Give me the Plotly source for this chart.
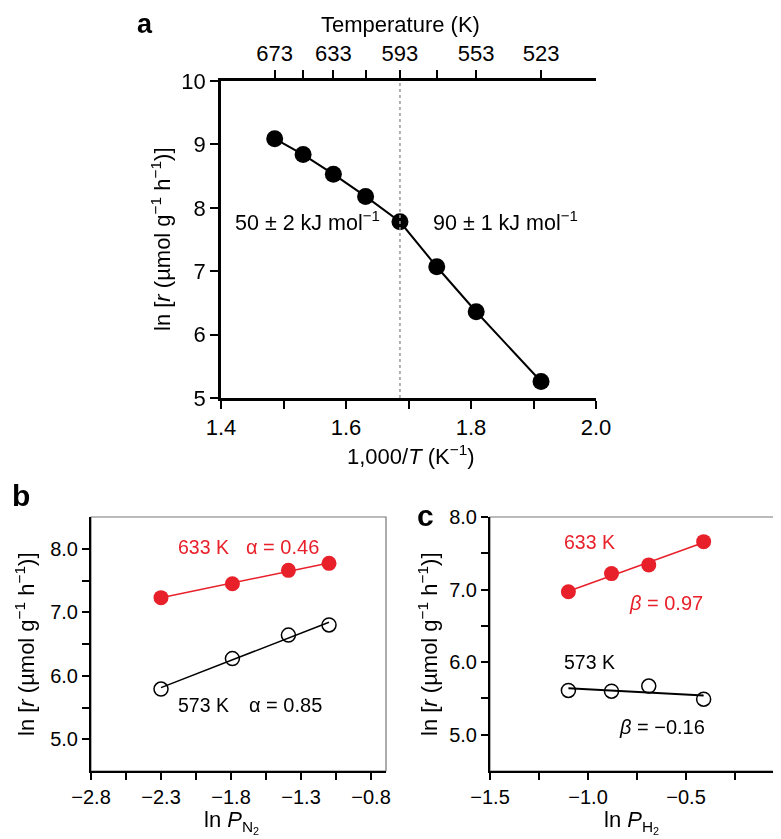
import numpy as np
import plotly.graph_objects as go

W, H = 781, 839
FONT = "Liberation Sans, Arial, sans-serif"
RED = "#e8202a"

# panel a: Arrhenius plot
temps_a = [673, 653, 633, 613, 593, 573, 553, 523]
ln_r_a = [9.09, 8.84, 8.53, 8.18, 7.78, 7.07, 6.36, 5.26]
top_labels = ["673", "", "633", "", "593", "", "553", "523"]

# panel b: N2 order
ln_pn2 = [-2.30, -1.79, -1.39, -1.10]
ln_r_b_633 = [7.23, 7.45, 7.66, 7.77]
ln_r_b_573 = [5.79, 6.27, 6.64, 6.80]

# panel c: H2 order
ln_ph2 = [-1.10, -0.88, -0.69, -0.41]
ln_r_c_633 = [6.97, 7.22, 7.34, 7.66]
ln_r_c_573 = [5.61, 5.60, 5.67, 5.49]

inv_t = [1000.0 / t for t in temps_a]


def px_x(a, b):
    return [a / W, b / W]


def px_y(top, bottom):
    return [1 - bottom / H, 1 - top / H]


def fit_line(x, y):
    k, c = np.polyfit(x, y, 1)
    xs = [min(x), max(x)]
    return xs, [k * v + c for v in xs]


fig = go.Figure()

# a
fig.add_trace(go.Scatter(x=inv_t, y=ln_r_a, mode="lines+markers",
                         line=dict(color="black", width=2),
                         marker=dict(color="black", size=17),
                         xaxis="x", yaxis="y"))
# invisible trace so the top axis is drawn
fig.add_trace(go.Scatter(x=inv_t, y=ln_r_a, mode="markers", opacity=0,
                         xaxis="x2", yaxis="y", hoverinfo="skip"))

# b
for ys, col, filled in [(ln_r_b_633, RED, True), (ln_r_b_573, "black", False)]:
    fx, fy = fit_line(ln_pn2, ys)
    fig.add_trace(go.Scatter(x=fx, y=fy, mode="lines",
                             line=dict(color=col, width=1.5),
                             xaxis="x3", yaxis="y3"))
    fig.add_trace(go.Scatter(x=ln_pn2, y=ys, mode="markers",
                             marker=dict(color=col if filled else "rgba(0,0,0,0)",
                                         size=15 if filled else 14,
                                         line=dict(color=col, width=0 if filled else 1.5)),
                             xaxis="x3", yaxis="y3"))

# c
for ys, col, filled in [(ln_r_c_633, RED, True), (ln_r_c_573, "black", False)]:
    fx, fy = fit_line(ln_ph2, ys)
    fig.add_trace(go.Scatter(x=fx, y=fy, mode="lines",
                             line=dict(color=col, width=1.5 if filled else 2),
                             xaxis="x4", yaxis="y4"))
    fig.add_trace(go.Scatter(x=ln_ph2, y=ys, mode="markers",
                             marker=dict(color=col if filled else "rgba(0,0,0,0)",
                                         size=15 if filled else 14,
                                         line=dict(color=col, width=0 if filled else 1.5)),
                             xaxis="x4", yaxis="y4"))

ax_common = dict(showgrid=False, zeroline=False, showline=True, linecolor="black",
                 ticks="outside", tickcolor="black", automargin=False,
                 fixedrange=True, ticklabeloverflow="allow")

fig.update_layout(
    width=W, height=H, margin=dict(l=0, r=0, t=0, b=0),
    paper_bgcolor="white", plot_bgcolor="white", showlegend=False,
    font=dict(family=FONT, color="black"),
    xaxis=dict(ax_common, domain=px_x(213, 588), range=[1.4, 2.0], anchor="y",
               tickvals=[1.4, 1.6, 1.8, 2.0], ticktext=["1.4", "1.6", "1.8", "2.0"],
               ticklen=8, tickwidth=2, linewidth=2.5, tickfont=dict(size=22),
               minor=dict(tickvals=[1.5, 1.7, 1.9], ticklen=8, tickwidth=2,
                          ticks="outside", tickcolor="black")),
    xaxis2=dict(ax_common, overlaying="x", side="top", anchor="y", range=[1.4, 2.0],
                tickvals=inv_t, ticktext=top_labels, ticklen=8, tickwidth=2,
                linewidth=2.5, tickfont=dict(size=22)),
    yaxis=dict(ax_common, domain=px_y(73, 390), range=[5, 10], anchor="x",
               tickvals=[5, 6, 7, 8, 9, 10], ticklen=8, tickwidth=2, linewidth=2.5,
               tickfont=dict(size=22)),
    xaxis3=dict(ax_common, domain=px_x(83, 378), range=[-2.8, -0.693], anchor="y3",
                tickvals=[-2.8, -2.3, -1.8, -1.3, -0.8],
                ticktext=["\u22122.8", "\u22122.3", "\u22121.8", "\u22121.3", "\u22120.8"],
                ticklen=7, tickwidth=1.5, linewidth=2, tickfont=dict(size=20),
                minor=dict(tickvals=[-2.55, -2.05, -1.55, -1.05], ticklen=7,
                           tickwidth=1.5, ticks="outside", tickcolor="black")),
    yaxis3=dict(ax_common, domain=px_y(509, 763), range=[4.5, 8.5], anchor="x3",
                tickvals=[5, 6, 7, 8], ticktext=["5.0", "6.0", "7.0", "8.0"],
                ticklen=7, tickwidth=1.5, linewidth=2, tickfont=dict(size=20),
                minor=dict(tickvals=[5.5, 6.5, 7.5], ticklen=7, tickwidth=1.5,
                           ticks="outside", tickcolor="black")),
    xaxis4=dict(ax_common, domain=px_x(482, 776), range=[-1.5, 0], anchor="y4",
                tickvals=[-1.5, -1.0, -0.5, 0],
                ticktext=["\u22121.5", "\u22121.0", "\u22120.5", "0"],
                ticklen=7, tickwidth=1.5, linewidth=2, tickfont=dict(size=20),
                minor=dict(tickvals=[-1.25, -0.75, -0.25], ticklen=7, tickwidth=1.5,
                           ticks="outside", tickcolor="black")),
    yaxis4=dict(ax_common, domain=px_y(509, 763), range=[4.5, 8.0], anchor="x4",
                tickvals=[5, 6, 7, 8], ticktext=["5.0", "6.0", "7.0", "8.0"],
                ticklen=7, tickwidth=1.5, linewidth=2, tickfont=dict(size=20),
                minor=dict(tickvals=[5.5, 6.5, 7.5], ticklen=7, tickwidth=1.5,
                           ticks="outside", tickcolor="black")),
)

# thin grey frame on top/right of b and c
for xr, yr in [("x3", "y3"), ("x4", "y4")]:
    fig.add_shape(type="rect", xref=xr + " domain", yref=yr + " domain",
                  x0=0, x1=1, y0=0, y1=1, layer="below",
                  line=dict(color="#777777", width=1.2))

# dotted line at 593 K
fig.add_shape(type="line", xref="x", yref="y", x0=1000 / 593, x1=1000 / 593,
              y0=5, y1=10, line=dict(color="#999999", width=1.5, dash="dot"))

ytitle = "ln [<i>r</i> (\u00b5mol g<sup>\u22121</sup> h<sup>\u22121</sup>)]"
notes = [
    # (text, x, y, xref, yref, size, color, angle, bold, yanchor)
    ("a", 137 / W, 1 - 16 / H, "paper", "paper", 27, "black", 0, True, "middle"),
    ("b", 13 / W, 1 - 487 / H, "paper", "paper", 30, "black", 0, True, "middle"),
    ("c", 418 / W, 1 - 507 / H, "paper", "paper", 30, "black", 0, True, "middle"),
    ("Temperature (K)", 392 / W, 1 - 17 / H, "paper", "paper", 22, "black", 0, False, "middle"),
    ("1,000/<i>T</i> (K<sup>\u22121</sup>)", 403 / W, 1 - 447 / H, "paper", "paper", 22, "black", 0, False, "middle"),
    (ytitle, 153 / W, 1 - 231 / H, "paper", "paper", 22, "black", -90, False, "middle"),
    (ytitle, 17 / W, 1 - 636 / H, "paper", "paper", 22, "black", -90, False, "middle"),
    (ytitle, 420 / W, 1 - 636 / H, "paper", "paper", 22, "black", -90, False, "middle"),
    ("ln <i>P</i><sub>N<sub>2</sub></sub>", 223 / W, 1 - 831 / H, "paper", "paper", 22, "black", 0, False, "bottom"),
    ("ln <i>P</i><sub>H<sub>2</sub></sub>", 623 / W, 1 - 831 / H, "paper", "paper", 22, "black", 0, False, "bottom"),
    ("50 \u00b1 2 kJ mol<sup>\u22121</sup>", 1.538, 7.79, "x", "y", 21.5, "black", 0, False, "middle"),
    ("90 \u00b1 1 kJ mol<sup>\u22121</sup>", 1.855, 7.79, "x", "y", 21.5, "black", 0, False, "middle"),
    ("633 K", -2.0, 8.02, "x3", "y3", 19.5, RED, 0, False, "middle"),
    ("\u03b1 = 0.46", -1.43, 8.02, "x3", "y3", 20, RED, 0, False, "middle"),
    ("573 K", -2.0, 5.54, "x3", "y3", 19.5, "black", 0, False, "middle"),
    ("\u03b1 = 0.85", -1.41, 5.54, "x3", "y3", 20, "black", 0, False, "middle"),
    ("633 K", -0.99, 7.66, "x4", "y4", 19.5, RED, 0, False, "middle"),
    ("<i>\u03b2</i> = 0.97", -0.60, 6.82, "x4", "y4", 20, RED, 0, False, "middle"),
    ("573 K", -0.99, 6.0, "x4", "y4", 19.5, "black", 0, False, "middle"),
    ("<i>\u03b2</i> = \u22120.16", -0.625, 5.11, "x4", "y4", 20, "black", 0, False, "middle"),
]
for text, x, y, xr, yr, size, col, ang, bold, ya in notes:
    fig.add_annotation(text="<b>%s</b>" % text if bold else text, x=x, y=y,
                       xref=xr, yref=yr, showarrow=False, textangle=ang,
                       xanchor="center", yanchor=ya,
                       font=dict(size=size, color=col, family=FONT))

fig.write_html("out.html")
